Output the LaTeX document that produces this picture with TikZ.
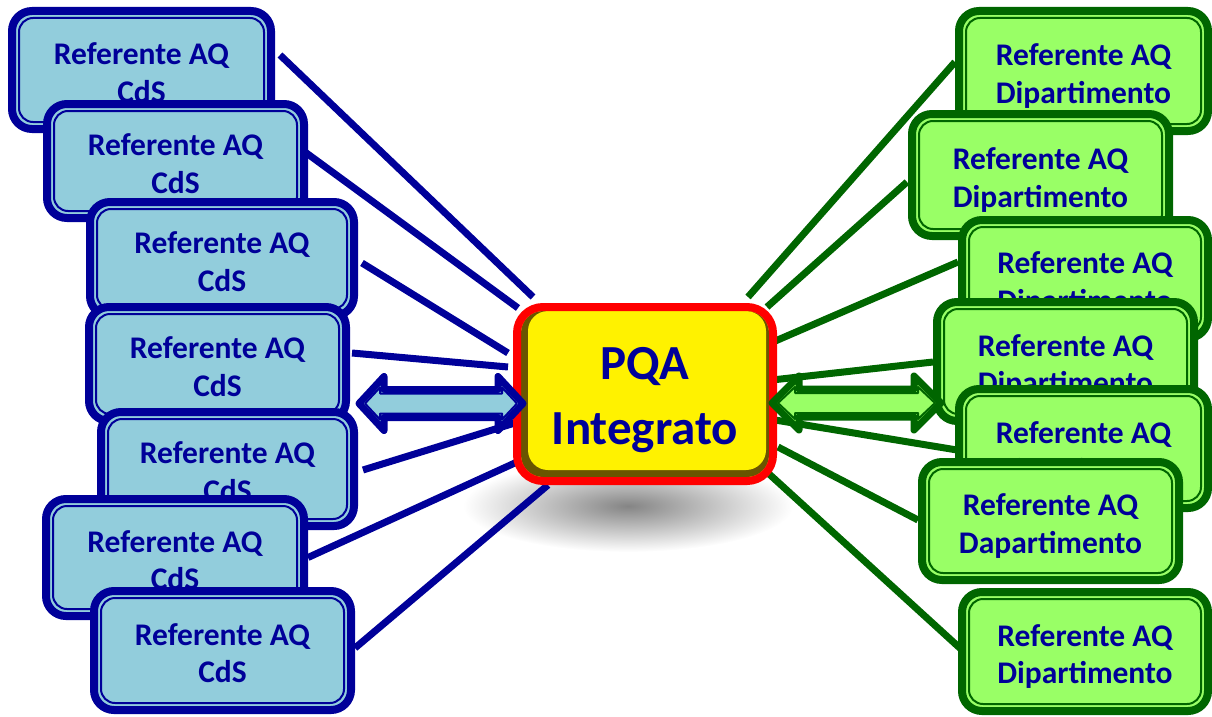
\documentclass[tikz,border=0pt]{standalone}
\usepackage{fontspec}
\setmainfont{Carlito}
\usetikzlibrary{calc}
\pgfdeclarelayer{background}
\pgfsetlayers{background,main}
\definecolor{navy}{RGB}{0,0,153}
\definecolor{cdsfill}{RGB}{146,205,220}
\definecolor{dgreen}{RGB}{0,102,0}
\definecolor{lgreen}{RGB}{153,255,102}
\definecolor{bevelc}{RGB}{105,85,0}
\tikzset{
  cds/.style={rounded corners=20pt, fill=cdsfill, draw=navy, line width=8pt,
    inner sep=0pt, outer sep=0pt, text=navy, align=center,
    font=\fontsize{31.5}{37.5}\selectfont\bfseries},
  cds inner/.style={draw=navy, line width=2pt, rounded corners=14pt},
  dip/.style={cds, fill=lgreen, draw=dgreen},
  dip inner/.style={draw=dgreen, line width=2pt, rounded corners=14pt},
  blueline/.style={draw=navy, line width=7pt},
  greenline/.style={draw=dgreen, line width=7pt},
  bluearrow/.style={fill=cdsfill, draw=navy, line width=7pt, line join=round},
  bluearrow inner/.style={draw=navy, line width=2pt, line join=round},
  greenarrow/.style={fill=lgreen, draw=dgreen, line width=7pt, line join=round},
  greenarrow inner/.style={draw=dgreen, line width=2pt, line join=round},
  pqa/.style={rounded corners=26pt, fill=yellow, draw=red, line width=8pt,
    inner sep=0pt, outer sep=0pt, minimum width=256pt, minimum height=174pt,
    path picture={
      \fill[bevelc, rounded corners=22pt]
        ([shift={(4pt,-4pt)}]path picture bounding box.north west) rectangle
        ([shift={(-4pt,4pt)}]path picture bounding box.south east);
      \fill[yellow, rounded corners=20pt]
        ([shift={(11pt,-4pt)}]path picture bounding box.north west) rectangle
        ([shift={(-7pt,11pt)}]path picture bounding box.south east);
    }},
  pqatext/.style={text=navy, align=center, inner sep=0pt,
    font=\fontsize{49}{65}\selectfont\bfseries}
}
% two-line box text, nudged to sit as in the reference
\newcommand\twolines[2]{\rule{0pt}{27pt}#1\\\smash{#2}}
% #1 name, #2 x1, #3 y1, #4 x2, #5 y2, #6 style, #7 text
\newcommand\refbox[7]{%
  \pgfmathsetmacro\rbXc{(#2+#4)/2}%
  \pgfmathsetmacro\rbYc{(#3+#5)/2}%
  \pgfmathsetmacro\rbW{#4-#2}%
  \pgfmathsetmacro\rbH{#5-#3}%
  \node[#6, minimum width=\rbW pt, minimum height=\rbH pt] (#1) at (\rbXc,\rbYc) {#7};
  \draw[#6 inner] ([shift={(7pt,-7pt)}]#1.north west) rectangle ([shift={(-7pt,7pt)}]#1.south east);
}
% #1 left tip, #2 right tip, #3 centre y, #4 head length, #5 style
\newcommand\dblarrow[5]{%
  \draw[#5] (#1,#3) -- (#1+#4,#3-27) -- (#1+#4,#3-14) -- (#2-#4,#3-14) -- (#2-#4,#3-27)
    -- (#2,#3) -- (#2-#4,#3+27) -- (#2-#4,#3+14) -- (#1+#4,#3+14) -- (#1+#4,#3+27) -- cycle;
  \draw[#5 inner] (#1+6,#3) -- (#1+#4-4,#3-16) -- (#1+#4-4,#3-10) -- (#2-#4+4,#3-10) -- (#2-#4+4,#3-16)
    -- (#2-6,#3) -- (#2-#4+4,#3+16) -- (#2-#4+4,#3+10) -- (#1+#4-4,#3+10) -- (#1+#4-4,#3+16) -- cycle;
}
\begin{document}
\begin{tikzpicture}[x=1pt,y=-1pt]
\useasboundingbox (0,0) rectangle (1212,717);
\clip (0,0) rectangle (1212,717);

% left boxes
\refbox{L1}{12}{11}{271}{129}{cds}{\twolines{Referente AQ}{CdS}}
\refbox{L2}{47}{104}{304}{218}{cds}{\twolines{Referente AQ}{CdS}}
\refbox{L3}{90}{202}{354}{316}{cds}{\twolines{Referente AQ}{CdS}}
\refbox{L4}{89}{307}{346}{421}{cds}{\twolines{Referente AQ}{CdS}}
\refbox{L5}{101}{412}{354}{526}{cds}{\twolines{Referente AQ}{CdS}}
\refbox{L6}{46}{499}{304}{616}{cds}{\twolines{Referente AQ}{CdS}}
\refbox{L7}{94}{591}{351}{710}{cds}{\twolines{Referente AQ}{CdS}}

% right boxes
\refbox{R1}{959}{11}{1208}{131}{dip}{\twolines{Referente AQ}{Dipartimento}}
\refbox{R2}{912}{114}{1169}{236}{dip}{\twolines{Referente AQ}{Dipartimento}}
\refbox{R3}{962}{220}{1208}{338}{dip}{\twolines{Referente AQ}{Dipartimento}}
\refbox{R4}{937}{302}{1194}{421}{dip}{\twolines{Referente AQ}{Dipartimento}}
\refbox{R5}{959}{389}{1208}{508}{dip}{\twolines{Referente AQ}{Dipartimento}}
\refbox{R6}{922}{462}{1179}{580}{dip}{\twolines{Referente AQ}{Dapartimento}}
\refbox{R7}{962}{592}{1208}{711}{dip}{\twolines{Referente AQ}{Dipartimento}}

% central box
\node[pqa, label={[pqatext, yshift=-6pt]center:PQA\\Integrato}] (P) at (645,394) {};

\begin{pgfonlayer}{background}
  \shade[inner color=black!48, outer color=white] (628,506) ellipse [x radius=165pt, y radius=46pt];
  % blue connectors
  \draw[blueline] ([shift={(9pt,15pt)}]L1.east) -- ([shift={(16pt,10pt)}]P.north west);
  \draw[blueline] ([shift={(1pt,9pt)}]L2.east) -- ([shift={(1pt,-1pt)}]P.north west);
  \draw[blueline] ([shift={(8pt,-4pt)}]L3.east) -- ([shift={(-9pt,41pt)}]P.west);
  \draw[blueline] ([shift={(6pt,11pt)}]L4.east) -- ([shift={(-9pt,27pt)}]P.west);
  \draw[blueline] ([shift={(9pt,-1pt)}]L5.east) -- ([shift={(1pt,-28pt)}]P.west);
  \draw[blueline] ([shift={(4pt,0pt)}]L6.east) -- ([shift={(0pt,-68pt)}]P.west);
  \draw[blueline] ([shift={(4pt,2.5pt)}]L7.east) -- ([shift={(31pt,-4pt)}]P.south west);
  % green connectors
  \draw[greenline] ([shift={(-4pt,9pt)}]R1.west) -- ([shift={(-25pt,10pt)}]P.north east);
  \draw[greenline] ([shift={(-5pt,-7pt)}]R2.west) -- ([shift={(-6pt,0pt)}]P.north east);
  \draw[greenline] ([shift={(-4pt,17pt)}]R3.west) -- ([shift={(0pt,52pt)}]P.east);
  \draw[greenline] ([shift={(-4pt,-0.5pt)}]R4.west) -- ([shift={(-1pt,14pt)}]P.east);
  \draw[greenline] ([shift={(-2pt,-1.5pt)}]R5.west) -- ([shift={(2pt,-26pt)}]P.east);
  \draw[greenline] ([shift={(-4pt,1pt)}]R6.west) -- ([shift={(5pt,-53pt)}]P.east);
  \draw[greenline] ([shift={(0pt,1.5pt)}]R7.west) -- ([shift={(-5pt,8pt)}]P.south east);
\end{pgfonlayer}

% double block arrows
\dblarrow{359}{523}{403.5}{25}{bluearrow}
\dblarrow{772}{941}{403}{27}{greenarrow}
\end{tikzpicture}
\end{document}
